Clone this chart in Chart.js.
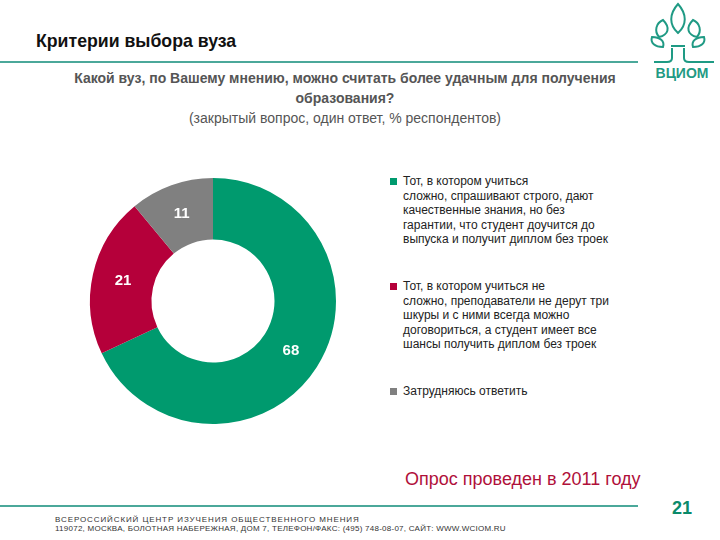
<!DOCTYPE html>
<html><head><meta charset="utf-8">
<script src="https://cdn.jsdelivr.net/npm/chart.js@4/dist/chart.umd.min.js"></script>
<style>
html,body{margin:0;padding:0;background:#fff;}
#page{position:relative;width:720px;height:540px;overflow:hidden;font-family:"Liberation Sans",Arial,sans-serif;}
.abs{position:absolute;}
#title{left:36px;top:31px;font-size:17.7px;font-weight:bold;color:#111;}
.hline{position:absolute;left:0;width:638px;height:2px;background:#4ba89a;}
#sub{left:60px;width:570px;top:68px;text-align:center;color:#555;font-size:14px;line-height:20px;}
#sub b{font-weight:bold;}
#legend{left:390px;top:174px;width:240px;}
.li{position:absolute;left:0;width:240px;font-size:12px;line-height:14.5px;color:#222;padding-left:13px;}
.sw{position:absolute;left:0;top:4px;width:7px;height:7px;}
#note{left:405px;top:469px;font-size:18px;color:#b0103a;}
#pnum{left:672px;top:498px;font-size:18px;font-weight:bold;color:#0a8a6a;}
#foot{left:55px;top:515px;font-size:8px;line-height:9px;color:#333;}
#wrap{left:80px;top:168px;width:266px;height:266px;}
</style></head>
<body><div id="page">
<div id="title" class="abs">Критерии выбора вуза</div>
<div class="hline" style="top:61px"></div>
<div id="sub" class="abs"><b>Какой вуз, по Вашему мнению, можно считать более удачным для получения<br>образования?</b><br>(закрытый вопрос, один ответ, % респондентов)</div>
<svg class="abs" style="left:640px;top:0px" width="80" height="86" viewBox="0 0 80 86">
 <g fill="none" stroke="#1f9a84" stroke-width="2">
  <path d="M38 4 C29 14 29 25 38 33 C47 25 47 14 38 4 Z"/>
  <path d="M23 20 C16 23 14 31 19 37 C28 35 31 28 23 20 Z"/>
  <path d="M53 20 C60 23 62 31 57 37 C48 35 45 28 53 20 Z"/>
  <path d="M12 37 C10 43 15 47 23 47 C25 41 20 37 12 37 Z"/>
  <path d="M64 37 C66 43 61 47 53 47 C51 41 56 37 64 37 Z"/>
  <path d="M32 48 L32 58 C32 62 29 62 27 62 L14 62"/>
  <path d="M44 48 L44 58 C44 62 47 62 49 62 L74 62"/>
  <path d="M31 46 L45 46"/>
 </g>
 <text x="42" y="78" text-anchor="middle" font-family="Liberation Sans,sans-serif" font-size="14" font-weight="bold" fill="#1f9a84">ВЦИОМ</text>
</svg>
<div id="wrap" class="abs"><canvas id="c" width="266" height="266"></canvas></div>
<div id="legend" class="abs"></div>
<div id="note" class="abs">Опрос проведен в 2011 году</div>
<div class="hline" style="top:505px"></div>
<div id="pnum" class="abs">21</div>
<div id="foot" class="abs"><span style="letter-spacing:0.9px">ВСЕРОССИЙСКИЙ ЦЕНТР ИЗУЧЕНИЯ ОБЩЕСТВЕННОГО МНЕНИЯ</span><br><span style="letter-spacing:0.25px">119072, МОСКВА, БОЛОТНАЯ НАБЕРЕЖНАЯ, ДОМ 7, ТЕЛЕФОН/ФАКС: (495) 748-08-07, САЙТ: WWW.WCIOM.RU</span></div>
</div>
<script>
const categories = [
  ["Тот, в котором учиться", "сложно, спрашивают строго, дают", "качественные знания, но без", "гарантии, что студент доучится до", "выпуска и получит диплом без троек"],
  ["Тот, в котором учиться не", "сложно, преподаватели не дерут три", "шкуры и с ними всегда можно", "договориться, а студент имеет все", "шансы получить диплом без троек"],
  ["Затрудняюсь ответить"]
];
const values = [68, 21, 11];
const colors = ["#009a6e", "#b5003a", "#808080"];
const legendTops = [0, 105, 210];

const leg = document.getElementById('legend');
categories.forEach((lines, i) => {
  const d = document.createElement('div');
  d.className = 'li';
  d.style.top = legendTops[i] + 'px';
  d.innerHTML = '<span class="sw" style="background:' + colors[i] + '"></span>' + lines.join('<br>');
  leg.appendChild(d);
});

const labelPlugin = {
  id: 'vals',
  afterDatasetsDraw(chart) {
    const ctx = chart.ctx;
    const meta = chart.getDatasetMeta(0);
    ctx.save();
    ctx.fillStyle = '#fff';
    ctx.font = 'bold 15px "Liberation Sans", sans-serif';
    ctx.textAlign = 'center';
    ctx.textBaseline = 'middle';
    meta.data.forEach((arc, i) => {
      const p = arc.tooltipPosition();
      ctx.fillText(String(values[i]), p.x, p.y);
    });
    ctx.restore();
  }
};

new Chart(document.getElementById('c'), {
  type: 'doughnut',
  data: {
    labels: categories.map(l => l.join(' ')),
    datasets: [{ data: values, backgroundColor: colors, borderWidth: 0 }]
  },
  options: {
    responsive: false,
    animation: false,
    cutout: '50%',
    layout: { padding: 10 },
    plugins: { legend: { display: false }, tooltip: { enabled: false } }
  },
  plugins: [labelPlugin]
});
</script>
</body></html>
